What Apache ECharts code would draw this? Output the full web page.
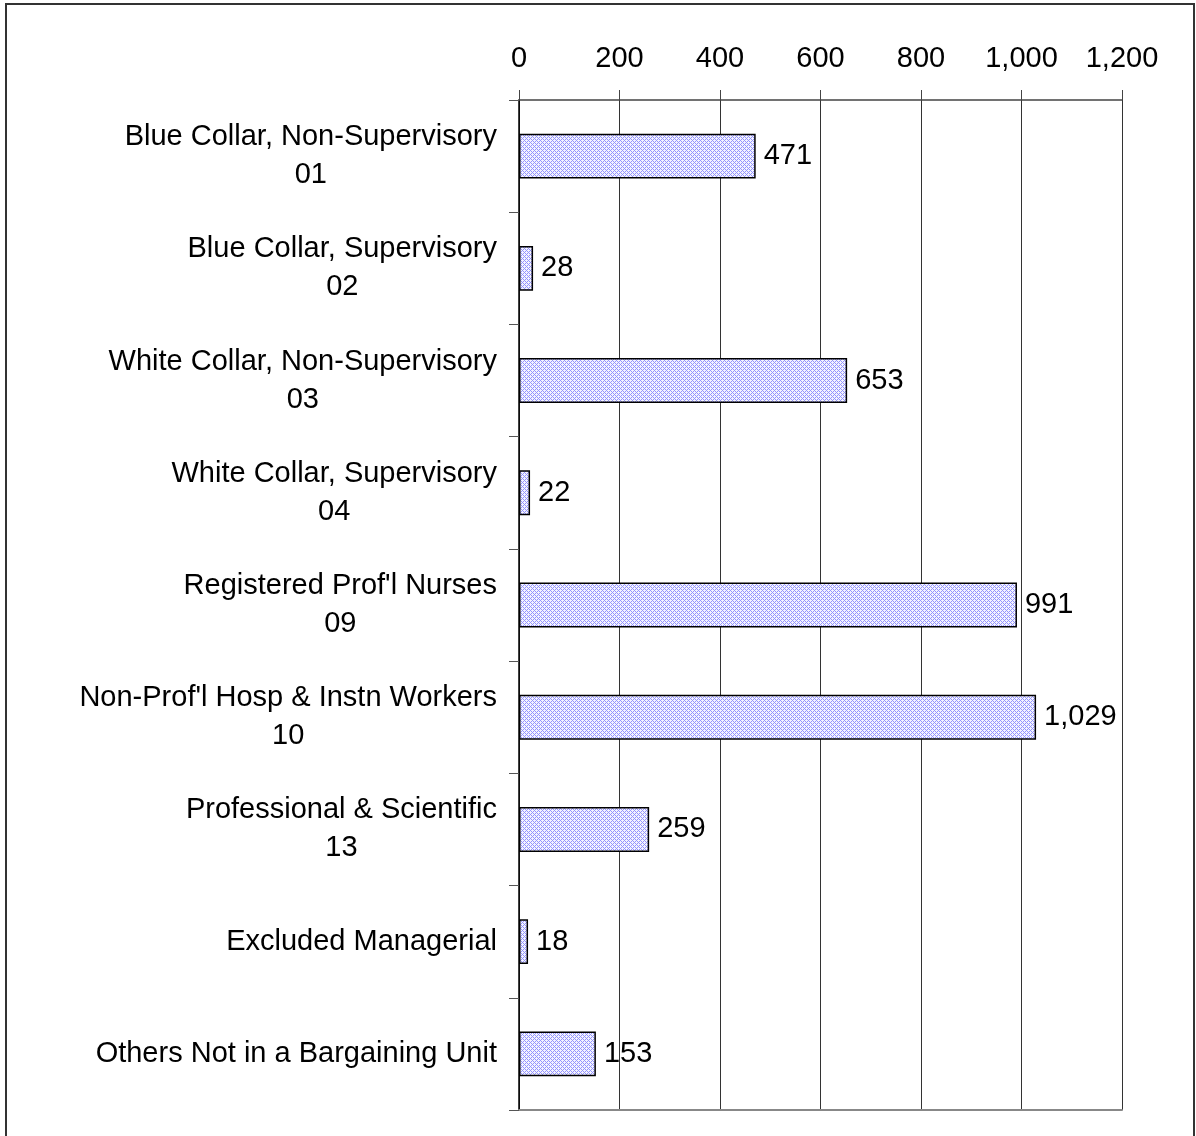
<!DOCTYPE html>
<html>
<head>
<meta charset="utf-8">
<script src="https://cdn.jsdelivr.net/npm/echarts@6/dist/echarts.min.js"></script>
<style>
html,body{margin:0;padding:0;background:#fff;}
#c{width:1196px;height:1136px;}
</style>
</head>
<body>
<div id="c"></div>
<script>
const categories = [
  "Blue Collar, Non-Supervisory\n01",
  "Blue Collar, Supervisory\n02",
  "White Collar, Non-Supervisory\n03",
  "White Collar, Supervisory\n04",
  "Registered Prof'l Nurses\n09",
  "Non-Prof'l Hosp & Instn Workers\n10",
  "Professional & Scientific\n13",
  "Excluded Managerial",
  "Others Not in a Bargaining Unit"
];
const values = [471, 28, 653, 22, 991, 1029, 259, 18, 153];
const tickValues = [0, 200, 400, 600, 800, 1000, 1200];

const pc = document.createElement('canvas');
pc.width = 4; pc.height = 4;
const g = pc.getContext('2d');
g.fillStyle = '#f4f4ff'; g.fillRect(0,0,4,4);
g.fillStyle = '#9494ff';
for (let x=0;x<4;x++) for (let y=0;y<4;y++) {
  if ((x+y)%4===0 || (x-y+4)%4===0) g.fillRect(x,y,1,1);
}

const fmt = v => v.toLocaleString('en-US');
const FONT = 'Liberation Sans, Arial, sans-serif';
const FS = 29;

const chart = echarts.init(document.getElementById('c'), null, {renderer:'canvas'});
chart.setOption({
  animation:false,
  backgroundColor:'#fff',
  grid:{left:519, right:74, top:100, bottom:26, containLabel:false},
  xAxis:[{
    type:'value', position:'top', min:tickValues[0], max:tickValues[tickValues.length-1], interval:200,
    axisLine:{show:true, lineStyle:{color:'#444', width:1.5}},
    axisTick:{show:true, length:10, lineStyle:{color:'#444', width:1}},
    axisLabel:{formatter:fmt, fontSize:FS, fontFamily:FONT, color:'#000', margin:27},
    splitLine:{show:true, lineStyle:{color:'#333', width:1}}
  },{
    type:'value', position:'bottom', min:0, max:1200, interval:200,
    axisLine:{show:true, lineStyle:{color:'#888', width:2}},
    axisTick:{show:false}, axisLabel:{show:false}, splitLine:{show:false}
  }],
  yAxis:{
    type:'category', data:categories, inverse:true,
    axisLine:{show:true, lineStyle:{color:'#000', width:1.5}},
    axisTick:{show:true, length:10, lineStyle:{color:'#555', width:1}},
    axisLabel:{
      margin:22, align:'right', color:'#000', fontSize:FS, fontFamily:FONT,
      formatter: v => v.split('\n').map(s => '{a|' + s + '}').join('\n'),
      rich:{a:{align:'center', fontSize:FS, fontFamily:FONT, color:'#000', lineHeight:38}}
    }
  },
  series:[{
    type:'bar', data:values, xAxisIndex:0, barWidth:'40%',
    itemStyle:{color:{image:pc, repeat:'repeat'}, borderColor:'#000', borderWidth:1.5},
    label:{show:true, position:'right', distance:8, formatter:p=>fmt(p.value), fontSize:FS, fontFamily:FONT, color:'#000'}
  }],
  graphic:[{
    type:'rect', shape:{x:6, y:4, width:1188, height:1150},
    style:{fill:null, stroke:'#333', lineWidth:2}, silent:true, z:100
  }]
});
</script>
</body>
</html>
